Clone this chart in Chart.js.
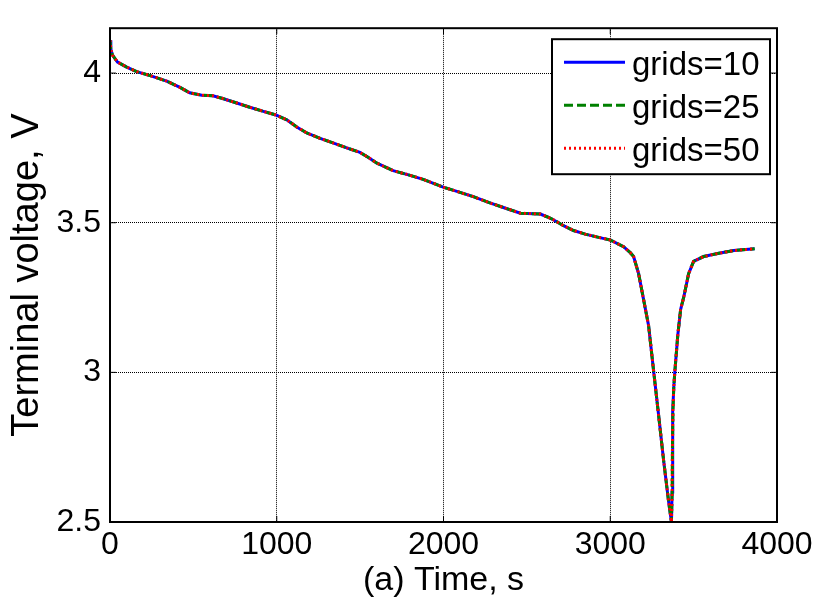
<!DOCTYPE html>
<html>
<head>
<meta charset="utf-8">
<script src="https://cdn.jsdelivr.net/npm/chart.js@4/dist/chart.umd.min.js"></script>
<style>
  html, body { margin: 0; padding: 0; background: #fff; }
  #wrap { width: 817px; height: 604px; }
</style>
</head>
<body>
<div id="wrap"><canvas id="chart" width="817" height="604"></canvas></div>
<script>
// discharge curve, time in s / terminal voltage in V
const timeS = [
  0, 5, 15, 45, 100, 160, 250, 340, 420, 478, 550, 617, 676, 760, 838, 920, 995,
  1060, 1120, 1180, 1260, 1337, 1420, 1499, 1550, 1601, 1698, 1790, 1878, 1998,
  2090, 2179, 2270, 2359, 2461, 2581, 2620, 2659, 2720, 2780, 2850, 2924, 3002,
  3080, 3120, 3140, 3170, 3200, 3230, 3261, 3290, 3320, 3350, 3362, 3367, 3371,
  3373, 3376, 3381, 3387, 3405, 3422, 3441, 3470, 3500, 3560, 3644, 3740, 3866,
];
const voltageV = [
  4.11, 4.08, 4.06, 4.037, 4.02, 4.005, 3.99, 3.973, 3.952, 3.934, 3.926, 3.924,
  3.915, 3.9, 3.886, 3.872, 3.86, 3.844, 3.82, 3.8, 3.782, 3.767, 3.75, 3.735,
  3.718, 3.699, 3.674, 3.66, 3.645, 3.619, 3.603, 3.587, 3.568, 3.551, 3.532,
  3.529, 3.52, 3.51, 3.49, 3.474, 3.462, 3.452, 3.442, 3.42, 3.4, 3.387, 3.33,
  3.243, 3.156, 3.0, 2.857, 2.706, 2.568, 2.52, 2.5, 2.6, 2.75, 2.87, 2.95, 3.0,
  3.124, 3.21, 3.252, 3.33, 3.371, 3.387, 3.397, 3.407, 3.413,
];
// the three grid resolutions give the same curve
const seriesLabels = ['grids=10', 'grids=25', 'grids=50'];
const xTicks = [0, 1000, 2000, 3000, 4000];
const yTicks = [2.5, 3, 3.5, 4];

const FONT = '"Liberation Sans", Arial, sans-serif';

const styles = [
  { color: '#0000ff', dash: [] },
  { color: '#008000', dash: [9, 4] },
  { color: '#ff0000', dash: [2, 3] },
];

const points = timeS.map((t, i) => ({ x: t, y: voltageV[i] }));

// box around the axes with inward ticks on all sides
const axesBox = {
  id: 'axesBox',
  afterDatasetsDraw(chart) {
    const { ctx, chartArea: { left, top, right, bottom }, scales: { x, y } } = chart;
    ctx.save();
    ctx.strokeStyle = '#000';
    ctx.lineWidth = 1;
    const len = 6;
    ctx.beginPath();
    x.ticks.forEach((t) => {
      const px = x.getPixelForValue(t.value);
      ctx.moveTo(px, bottom); ctx.lineTo(px, bottom - len);
      ctx.moveTo(px, top); ctx.lineTo(px, top + len);
    });
    y.ticks.forEach((t) => {
      const py = y.getPixelForValue(t.value);
      ctx.moveTo(left, py); ctx.lineTo(left + len, py);
      ctx.moveTo(right, py); ctx.lineTo(right - len, py);
    });
    ctx.stroke();
    ctx.lineWidth = 2;
    ctx.strokeRect(left, top, right - left, bottom - top);
    ctx.restore();
  },
};

// boxed legend in the upper right corner
const boxLegend = {
  id: 'boxLegend',
  afterDraw(chart) {
    const { ctx, chartArea } = chart;
    const w = 218;
    const h = 135;
    const bx = chartArea.right - 7 - w;
    const by = chartArea.top + 11;
    ctx.save();
    ctx.fillStyle = '#fff';
    ctx.fillRect(bx, by, w, h);
    ctx.strokeStyle = '#000';
    ctx.lineWidth = 2;
    ctx.strokeRect(bx, by, w, h);
    ctx.font = `33px ${FONT}`;
    ctx.textBaseline = 'middle';
    chart.data.datasets.forEach((ds, i) => {
      const cy = by + 27 + i * 43;
      ctx.strokeStyle = ds.borderColor;
      ctx.lineWidth = 3;
      ctx.setLineDash(ds.borderDash);
      ctx.beginPath();
      ctx.moveTo(bx + 12, cy - 4);
      ctx.lineTo(bx + 73, cy - 4);
      ctx.stroke();
      ctx.setLineDash([]);
      ctx.fillStyle = '#000';
      ctx.fillText(ds.label, bx + 80, cy);
    });
    ctx.restore();
  },
};

const datasets = seriesLabels.map((label, i) => ({
  label,
  data: points,
  borderColor: styles[i].color,
  borderDash: styles[i].dash,
  borderWidth: 3,
  pointRadius: 0,
  tension: 0,
  fill: false,
  order: 3 - i,
}));

new Chart(document.getElementById('chart'), {
  type: 'line',
  data: { datasets },
  options: {
    responsive: false,
    animation: false,
    layout: { padding: { top: 9, right: 40, left: 0, bottom: 0 } },
    plugins: {
      legend: { display: false },
      tooltip: { enabled: false },
    },
    scales: {
      x: {
        type: 'linear',
        min: 0,
        max: 4000,
        afterBuildTicks: (scale) => { scale.ticks = xTicks.map((v) => ({ value: v })); },
        afterFit: (scale) => { scale.height = 82; },
        ticks: {
          color: '#000',
          font: { family: FONT, size: 32 },
          padding: 4,
          maxRotation: 0,
          callback: (v) => String(v),
        },
        grid: { color: '#000', lineWidth: 1, drawTicks: false },
        border: { display: false, dash: [1, 1] },
        title: {
          display: true,
          text: '(a) Time, s',
          color: '#000',
          font: { family: FONT, size: 34 },
          padding: { top: 0, bottom: 3 },
        },
      },
      y: {
        type: 'linear',
        min: 2.5,
        max: 4.15,
        afterBuildTicks: (scale) => { scale.ticks = yTicks.map((v) => ({ value: v })); },
        afterFit: (scale) => { scale.width = 110; },
        ticks: {
          color: '#000',
          font: { family: FONT, size: 32 },
          padding: 9,
          callback: (v) => String(v),
        },
        grid: { color: '#000', lineWidth: 1, drawTicks: false },
        border: { display: false, dash: [1, 1] },
        title: {
          display: true,
          text: 'Terminal voltage, V',
          color: '#000',
          font: { family: FONT, size: 38 },
          padding: { top: 5, bottom: 0 },
        },
      },
    },
  },
  plugins: [axesBox, boxLegend],
});
</script>
</body>
</html>
